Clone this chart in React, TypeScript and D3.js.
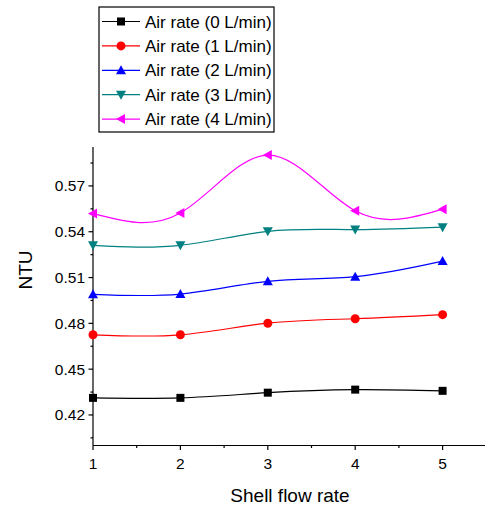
import React, { useEffect, useRef } from 'react';
import * as d3 from 'd3';

const flowRates = [1, 2, 3, 4, 5];
const air0 = [0.4312, 0.4312, 0.4346, 0.4366, 0.4358];
const air1 = [0.4725, 0.4725, 0.4801, 0.4830, 0.4857];
const air2 = [0.4990, 0.4992, 0.5075, 0.5106, 0.5208];
const air3 = [0.5311, 0.5311, 0.5403, 0.5414, 0.5430];
const air4 = [0.5520, 0.5523, 0.5902, 0.5537, 0.5548];
const seriesNames = [
  'Air rate (0 L/min)',
  'Air rate (1 L/min)',
  'Air rate (2 L/min)',
  'Air rate (3 L/min)',
  'Air rate (4 L/min)',
];
const yTicks = [0.42, 0.45, 0.48, 0.51, 0.54, 0.57];

const FONT = '"Liberation Sans", Arial, sans-serif';

export default function App() {
  const ref = useRef<SVGSVGElement | null>(null);

  useEffect(() => {
    if (!ref.current) return;
    const svg = d3.select(ref.current);
    svg.selectAll('*').remove();

    const left = 93, right = 485, top = 147, bottom = 445.5;

    const x = d3.scaleLinear().domain([1, 5.5]).range([left, left + 4.5 * 87.4]);
    const y = d3.scaleLinear().domain([0.40, 0.5955]).range([bottom, top]);

    const series = [
      { name: seriesNames[0], values: air0, color: '#000000', marker: 'square' },
      { name: seriesNames[1], values: air1, color: '#ff0000', marker: 'circle' },
      { name: seriesNames[2], values: air2, color: '#0000ff', marker: 'up' },
      { name: seriesNames[3], values: air3, color: '#008080', marker: 'down' },
      { name: seriesNames[4], values: air4, color: '#ff00ff', marker: 'left' },
    ];

    const drawMarker = (g: any, type: string, cx: number, cy: number, color: string) => {
      if (type === 'square') {
        g.append('rect').attr('x', cx - 4).attr('y', cy - 4).attr('width', 8).attr('height', 8).attr('fill', color);
      } else if (type === 'circle') {
        g.append('circle').attr('cx', cx).attr('cy', cy).attr('r', 4.5).attr('fill', color);
      } else {
        const s = 5;
        let pts: number[][] = [];
        if (type === 'up') pts = [[cx, cy - s], [cx - s, cy + s * 0.8], [cx + s, cy + s * 0.8]];
        if (type === 'down') pts = [[cx, cy + s], [cx - s, cy - s * 0.8], [cx + s, cy - s * 0.8]];
        if (type === 'left') pts = [[cx - s, cy], [cx + s * 0.8, cy - s], [cx + s * 0.8, cy + s]];
        g.append('polygon').attr('points', pts.map(p => p.join(',')).join(' ')).attr('fill', color);
      }
    };

    // axes
    svg.append('line').attr('x1', left).attr('x2', right).attr('y1', bottom).attr('y2', bottom)
      .attr('stroke', '#000').attr('stroke-width', 1.2);
    svg.append('line').attr('x1', left).attr('x2', left).attr('y1', top).attr('y2', bottom)
      .attr('stroke', '#000').attr('stroke-width', 1.2);

    // x ticks
    const xMajor = flowRates;
    const xMinor = [1.5, 2.5, 3.5, 4.5, 5.5];
    xMajor.forEach(v => {
      svg.append('line').attr('x1', x(v)).attr('x2', x(v)).attr('y1', bottom).attr('y2', bottom + 4.5)
        .attr('stroke', '#000').attr('stroke-width', 1.2);
      svg.append('text').attr('x', x(v)).attr('y', 468.5).attr('text-anchor', 'middle')
        .attr('font-family', FONT).attr('font-size', 15.5).attr('fill', '#000').text(v);
    });
    xMinor.forEach(v => {
      svg.append('line').attr('x1', x(v)).attr('x2', x(v)).attr('y1', bottom).attr('y2', bottom + 2.5)
        .attr('stroke', '#000').attr('stroke-width', 1.2);
    });

    // y ticks
    yTicks.forEach(v => {
      svg.append('line').attr('x1', left - 4.5).attr('x2', left).attr('y1', y(v)).attr('y2', y(v))
        .attr('stroke', '#000').attr('stroke-width', 1.2);
      svg.append('text').attr('x', 85).attr('y', y(v) + 5.5).attr('text-anchor', 'end')
        .attr('font-family', FONT).attr('font-size', 15.5).attr('fill', '#000').text(v.toFixed(2));
    });
    [0.405, 0.435, 0.465, 0.495, 0.525, 0.555, 0.585].forEach(v => {
      svg.append('line').attr('x1', left - 2.5).attr('x2', left).attr('y1', y(v)).attr('y2', y(v))
        .attr('stroke', '#000').attr('stroke-width', 1.2);
    });

    // axis titles
    svg.append('text').attr('transform', 'translate(32,270) rotate(-90)').attr('text-anchor', 'middle')
      .attr('font-family', FONT).attr('font-size', 19).attr('fill', '#000').text('NTU');
    svg.append('text').attr('x', 290).attr('y', 502).attr('text-anchor', 'middle')
      .attr('font-family', FONT).attr('font-size', 19).attr('fill', '#000').text('Shell flow rate');

    // lines
    const line = d3.line<number>()
      .x((_, i) => x(flowRates[i]))
      .y(d => y(d))
      .curve(d3.curveNatural);

    series.forEach(s => {
      svg.append('path').datum(s.values).attr('d', line).attr('fill', 'none')
        .attr('stroke', s.color).attr('stroke-width', 1.2);
      const g = svg.append('g');
      s.values.forEach((v, i) => drawMarker(g, s.marker, x(flowRates[i]), y(v), s.color));
    });

    // legend
    const lg = svg.append('g');
    lg.append('rect').attr('x', 99).attr('y', 7).attr('width', 175).attr('height', 125)
      .attr('fill', '#fff').attr('stroke', '#000').attr('stroke-width', 1.2);
    series.forEach((s, i) => {
      const ly = 21.5 + i * 24.4;
      lg.append('line').attr('x1', 102).attr('x2', 140).attr('y1', ly).attr('y2', ly)
        .attr('stroke', s.color).attr('stroke-width', 1.2);
      drawMarker(lg, s.marker, 121, ly, s.color);
      lg.append('text').attr('x', 145).attr('y', ly + 6).attr('font-family', FONT)
        .attr('font-size', 17).attr('fill', '#000').text(s.name);
    });
  }, []);

  return (
    <svg ref={ref} width={485} height={506}
      style={{ position: 'absolute', left: 0, top: 0, background: '#fff' }} />
  );
}
